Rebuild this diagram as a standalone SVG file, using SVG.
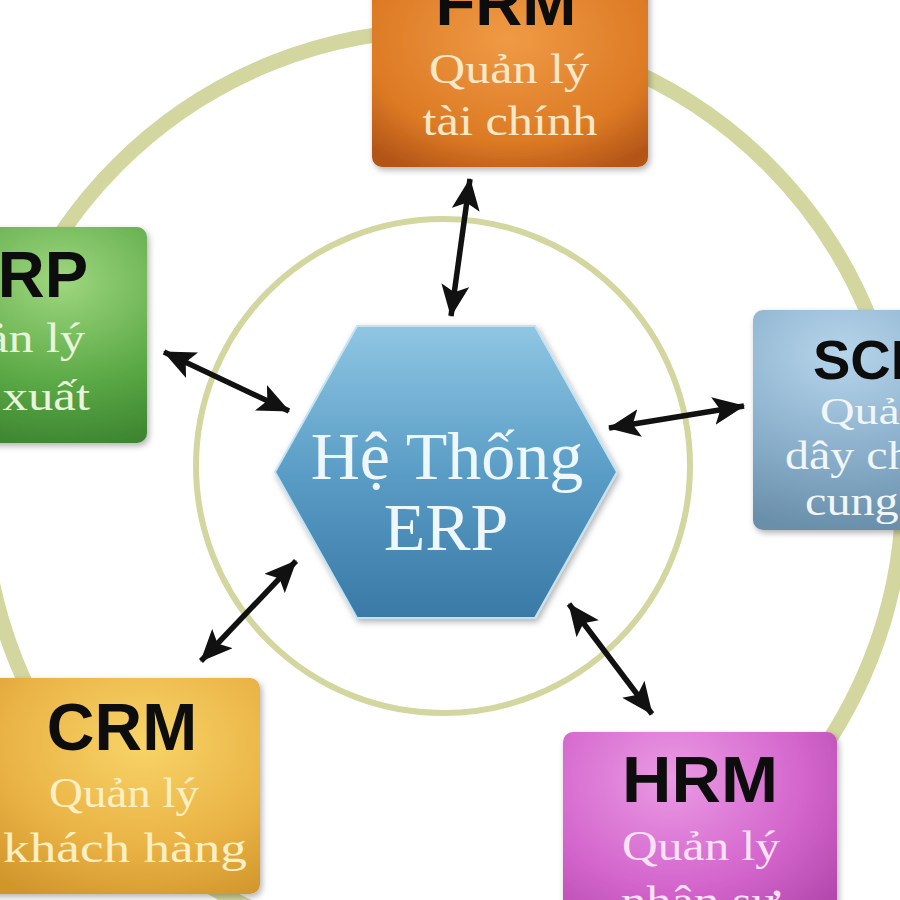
<svg xmlns="http://www.w3.org/2000/svg" width="900" height="900" viewBox="0 0 900 900">
<defs>
<style>
.ring{fill:none;stroke:#d4d69f}
.title{font-family:"Liberation Sans",Arial,sans-serif;font-weight:bold;fill:#0d0d0d;text-anchor:middle}
.sub{font-family:"Liberation Serif","Times New Roman",serif;font-size:42px;text-anchor:middle}
.hex{font-family:"Liberation Serif","Times New Roman",serif;font-size:68px;fill:#eef7fc;text-anchor:middle}
.arrow{stroke:#111;stroke-width:5.5;fill:none;marker-start:url(#head);marker-end:url(#head)}
</style>
<marker id="head" viewBox="0 0 32 28" refX="31" refY="14" markerWidth="32" markerHeight="28" markerUnits="userSpaceOnUse" orient="auto-start-reverse">
<path d="M0,0 L32,14 L0,28 L7,14 Z" fill="#111"/>
</marker>
<filter id="sh" x="-20%" y="-20%" width="140%" height="140%">
<feDropShadow dx="2" dy="3" stdDeviation="3" flood-color="#000" flood-opacity="0.3"/>
</filter>
<radialGradient id="gFrm" cx="50%" cy="35%" r="75%">
<stop offset="0" stop-color="#f09a45"/><stop offset="0.7" stop-color="#dc7a24"/><stop offset="1" stop-color="#b35518"/>
</radialGradient>
<radialGradient id="gMrp" cx="70%" cy="25%" r="80%">
<stop offset="0" stop-color="#9fd77f"/><stop offset="0.6" stop-color="#5aa845"/><stop offset="1" stop-color="#3b832f"/>
</radialGradient>
<radialGradient id="gScm" cx="30%" cy="20%" r="80%">
<stop offset="0" stop-color="#b6d5eb"/><stop offset="0.6" stop-color="#88adc9"/><stop offset="1" stop-color="#6a8fab"/>
</radialGradient>
<radialGradient id="gCrm" cx="60%" cy="30%" r="80%">
<stop offset="0" stop-color="#f8d468"/><stop offset="0.6" stop-color="#eab345"/><stop offset="1" stop-color="#d1962c"/>
</radialGradient>
<radialGradient id="gHrm" cx="40%" cy="20%" r="80%">
<stop offset="0" stop-color="#eb9ae4"/><stop offset="0.6" stop-color="#d365cc"/><stop offset="1" stop-color="#b247ab"/>
</radialGradient>
<linearGradient id="gHex" x1="0" y1="0" x2="0" y2="1">
<stop offset="0" stop-color="#8fc6e3"/><stop offset="0.5" stop-color="#5a9dc6"/><stop offset="1" stop-color="#3979a6"/>
</linearGradient>
</defs>
<rect x="0" y="0" width="900" height="900" fill="#ffffff"/>
<circle class="ring" cx="443" cy="490" r="460" stroke-width="15"/>
<circle class="ring" cx="443" cy="466" r="247" stroke-width="6"/>

<g id="node-erp">
<polygon points="357,326 535,326 617,472 535,618 357,618 275,472" fill="url(#gHex)" stroke="#c4e2f2" stroke-width="2" filter="url(#sh)"/>
<text class="hex" x="447" y="479">Hệ Thống</text>
<text class="hex" x="446" y="550">ERP</text>
</g>

<g id="node-frm">
<rect x="372" y="-30" width="276" height="197" rx="10" fill="url(#gFrm)" filter="url(#sh)"/>
<text class="title" x="506" y="25" font-size="65">FRM</text>
<text class="sub" x="509" y="83" fill="#f8e8c8" textLength="160" lengthAdjust="spacingAndGlyphs">Quản lý</text>
<text class="sub" x="510" y="135" fill="#f8e8c8" textLength="175" lengthAdjust="spacingAndGlyphs">tài chính</text>
</g>

<g id="node-mrp">
<rect x="-140" y="227" width="287" height="216" rx="10" fill="url(#gMrp)" filter="url(#sh)"/>
<text class="title" x="88" y="297" font-size="65" style="text-anchor:end">MRP</text>
<text class="sub" x="85" y="352" fill="#e8f4dc" style="text-anchor:end" textLength="160" lengthAdjust="spacingAndGlyphs">Quản lý</text>
<text class="sub" x="90" y="410" fill="#e8f4dc" style="text-anchor:end" textLength="168" lengthAdjust="spacingAndGlyphs">sản xuất</text>
</g>

<g id="node-scm">
<rect x="753" y="310" width="300" height="220" rx="10" fill="url(#gScm)" filter="url(#sh)"/>
<text class="title" x="813" y="379" font-size="56" style="text-anchor:start">SCM</text>
<text class="sub" x="820" y="424" fill="#f0f6fa" style="text-anchor:start;font-size:38px" textLength="153" lengthAdjust="spacingAndGlyphs">Quản lý</text>
<text class="sub" x="785" y="469" fill="#f0f6fa" style="text-anchor:start;font-size:40px" textLength="220" lengthAdjust="spacingAndGlyphs">dây chuyền</text>
<text class="sub" x="805" y="515" fill="#f0f6fa" style="text-anchor:start;font-size:40px" textLength="180" lengthAdjust="spacingAndGlyphs">cung ứng</text>
</g>

<g id="node-crm">
<rect x="-30" y="678" width="290" height="216" rx="10" fill="url(#gCrm)" filter="url(#sh)"/>
<text class="title" x="122" y="750" font-size="66">CRM</text>
<text class="sub" x="124" y="807" fill="#fcefc4" textLength="150" lengthAdjust="spacingAndGlyphs">Quản lý</text>
<text class="sub" x="125" y="862" fill="#fcefc4" textLength="244" lengthAdjust="spacingAndGlyphs">khách hàng</text>
</g>

<g id="node-hrm">
<rect x="563" y="732" width="274" height="230" rx="10" fill="url(#gHrm)" filter="url(#sh)"/>
<text class="title" x="700" y="802" font-size="65" textLength="156" lengthAdjust="spacingAndGlyphs">HRM</text>
<text class="sub" x="701" y="860" fill="#fbe2f6" textLength="158" lengthAdjust="spacingAndGlyphs">Quản lý</text>
<text class="sub" x="700" y="915" fill="#fbe2f6" textLength="158" lengthAdjust="spacingAndGlyphs">nhân sự</text>
</g>

<g id="connectors">
<line class="arrow" x1="470" y1="179" x2="451" y2="316"/>
<line class="arrow" x1="164" y1="352" x2="289" y2="411"/>
<line class="arrow" x1="609" y1="428" x2="744" y2="406"/>
<line class="arrow" x1="296" y1="561" x2="201" y2="661"/>
<line class="arrow" x1="569" y1="604" x2="652" y2="714"/>
</g>
</svg>
